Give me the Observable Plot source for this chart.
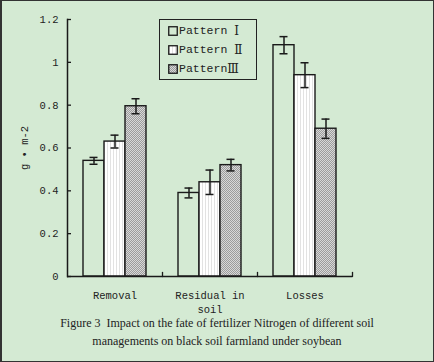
<!DOCTYPE html>
<html><head><meta charset="utf-8">
<script src="https://cdn.jsdelivr.net/npm/d3@7"></script>
<script src="https://cdn.jsdelivr.net/npm/@observablehq/plot@0.6"></script>
<style>
html,body{margin:0;padding:0;background:#fff;}
#fig{position:relative;width:434px;height:362px;background:#d4ead3;overflow:hidden;}
#border{position:absolute;left:0;top:0;width:434px;height:362px;box-sizing:border-box;border:1px solid #333;border-left:2px solid #333;pointer-events:none;}
#chart{position:absolute;left:0;top:0;}
#legend{position:absolute;left:159px;top:19px;width:98px;height:61px;box-sizing:border-box;border:1px solid #222;font-family:"Liberation Mono",monospace;font-size:11.5px;color:#222;padding-top:1px;}
#legend .row{display:flex;align-items:center;height:19px;padding-left:8px;white-space:pre;}
#legend svg{margin-right:1px;}
#legend .num{font-family:"DejaVu Serif",serif;font-size:12px;}
#caption{position:absolute;left:0;top:315px;width:434px;text-align:center;font-family:"Liberation Serif",serif;font-size:12px;line-height:17.5px;color:#222;}
</style></head>
<body>
<div id="fig">
  <div id="chart"></div>
  <div id="legend"></div>
  <div id="caption">Figure 3&nbsp; Impact on the fate of fertilizer Nitrogen of different soil<br>managements on black soil farmland under soybean</div>
  <div id="border"></div>
</div>
<script>
const categories = ["Removal", "Residual in\nsoil", "Losses"];
const patternNames = ["Pattern ", "Pattern ", "Pattern"];
const patternNums = ["Ⅰ", "Ⅱ", "Ⅲ"];
const patterns = patternNames.map((n, i) => n + patternNums[i]);
const valuesI = [0.54, 0.39, 1.08];
const valuesII = [0.63, 0.44, 0.94];
const valuesIII = [0.795, 0.52, 0.69];
const errI = [0.016, 0.023, 0.04];
const errII = [0.03, 0.057, 0.058];
const errIII = [0.035, 0.027, 0.045];
const yTicks = [0, 0.2, 0.4, 0.6, 0.8, 1, 1.2];
const yTickLabels = ["0", "0.2", "0.4", "0.6", "0.8", "1", "1.2"];
const yLabel = "g • m-2";

const fills = ["none", "url(#patII)", "url(#patIII)"];
const series = [[valuesI, errI], [valuesII, errII], [valuesIII, errIII]];
const rows = [];
series.forEach(([vals, errs], p) => {
  categories.forEach((c, i) => rows.push({cat: c, pattern: patterns[p], value: vals[i], err: errs[i], p}));
});

const ink = "#1a1a1a";
const plot = Plot.plot({
  width: 434, height: 314,
  marginLeft: 66, marginRight: 82, marginTop: 19, marginBottom: 38,
  style: {background: "transparent", fontFamily: "Liberation Mono, monospace", fontSize: "10.5px", color: "#222", overflow: "visible"},
  fx: {domain: categories, padding: 0, label: null},
  x: {domain: patterns, paddingInner: 0, paddingOuter: 0.74, axis: null},
  y: {domain: [0, 1.2]},
  marks: [
    ...patterns.map((pt, p) => Plot.barY(rows.filter(d => d.p === p), {fx: "cat", x: "pattern", y: "value", fill: fills[p], stroke: ink, strokeWidth: 1.4})),
    Plot.ruleX(rows, {fx: "cat", x: "pattern", y1: d => d.value - d.err, y2: d => d.value + d.err, stroke: ink, strokeWidth: 1.5}),
    Plot.tickY(rows, {fx: "cat", x: "pattern", y: d => d.value + d.err, insetLeft: 6.5, insetRight: 6.5, stroke: ink, strokeWidth: 1.5}),
    Plot.tickY(rows, {fx: "cat", x: "pattern", y: d => d.value - d.err, insetLeft: 6.5, insetRight: 6.5, stroke: ink, strokeWidth: 1.5}),
    Plot.ruleY([0], {stroke: ink, strokeWidth: 1.5}),
    Plot.frame({anchor: "left", facetAnchor: "left", stroke: ink, strokeWidth: 1.5}),
    Plot.axisY({ticks: yTicks, tickFormat: d => yTickLabels[yTicks.indexOf(d)], tickSize: -4, tickPadding: 13, stroke: ink, strokeWidth: 1.3, label: yLabel, labelAnchor: "center", labelOffset: 47, labelArrow: "none"}),
    Plot.axisFx({anchor: "bottom", tickSize: 0, tickPadding: 13, lineHeight: 1.3, label: null}),
    Plot.vector(categories, {fx: d => d, frameAnchor: "bottom-right", length: 4, rotate: 0, anchor: "start", stroke: ink, strokeWidth: 1.3,
      shape: {draw(ctx, l) { ctx.moveTo(0, 0); ctx.lineTo(0, -l); }}})
  ]
});

const svgNS = "http://www.w3.org/2000/svg";
const defsHTML = `
<pattern id="patII" width="3" height="3" patternUnits="userSpaceOnUse">
  <rect width="3" height="3" fill="#ffffff"/><rect x="1" width="1" height="3" fill="#e2e2e2"/>
</pattern>
<pattern id="patIII" width="2" height="2" patternUnits="userSpaceOnUse">
  <rect width="2" height="2" fill="#d8d8d8"/><rect width="1" height="1" fill="#9c9c9c"/><rect x="1" y="1" width="1" height="1" fill="#9c9c9c"/>
</pattern>`;
const defs = document.createElementNS(svgNS, "defs");
defs.innerHTML = defsHTML;
plot.insertBefore(defs, plot.firstChild);
document.getElementById("chart").appendChild(plot);

const legend = document.getElementById("legend");
patterns.forEach((pt, p) => {
  const row = document.createElement("div");
  row.className = "row";
  row.innerHTML = `<svg width="10" height="10"><rect x="0.75" y="0.75" width="8.5" height="8.5" fill="${fills[p]}" stroke="${ink}" stroke-width="1.3"/></svg><span>${patternNames[p]}</span><span class="num">${patternNums[p]}</span>`;
  legend.appendChild(row);
});
</script>
</body></html>
